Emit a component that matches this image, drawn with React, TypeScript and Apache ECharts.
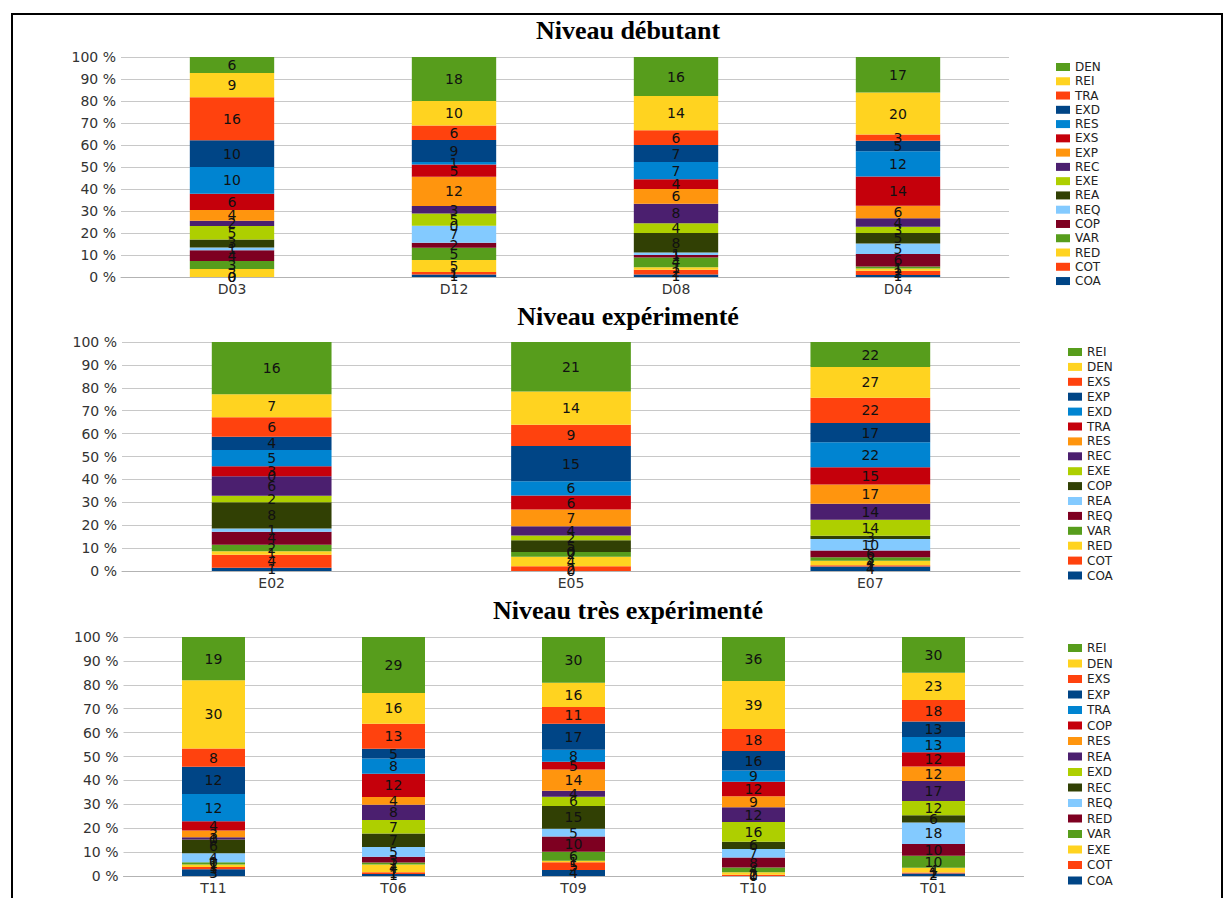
import React, { useEffect, useRef } from "react";
import * as echarts from "echarts";

// ---------- DATA ----------
const PALETTE = [
  "#004586", "#ff420e", "#ffd320", "#579d1c", "#7e0021", "#83caff", "#314004", "#aecf00",
  "#4b1f6f", "#ff950e", "#c5000b", "#0084d1", "#004586", "#ff420e", "#ffd320", "#579d1c",
];

// Niveau débutant (stack order bottom -> top)
const topTitle = "Niveau débutant";
const topCategories = ["D03", "D12", "D08", "D04"];
const topNames = ["COA", "COT", "RED", "VAR", "COP", "REQ", "REA", "EXE", "REC", "EXP", "EXS", "RES", "EXD", "TRA", "REI", "DEN"];
const valuesD03 = [0, 0, 3, 3, 4, 1, 3, 5, 2, 4, 6, 10, 10, 16, 9, 6];
const valuesD12 = [1, 1, 5, 5, 2, 7, 0, 5, 3, 12, 5, 1, 9, 6, 10, 18];
const valuesD08 = [1, 2, 1, 4, 1, 1, 8, 4, 8, 6, 4, 7, 7, 6, 14, 16];
const valuesD04 = [1, 2, 1, 1, 6, 5, 5, 3, 4, 6, 14, 12, 5, 3, 20, 17];

// Niveau expérimenté
const midTitle = "Niveau expérimenté";
const midCategories = ["E02", "E05", "E07"];
const midNames = ["COA", "COT", "RED", "VAR", "REQ", "REA", "COP", "EXE", "REC", "RES", "TRA", "EXD", "EXP", "EXS", "DEN", "REI"];
const valuesE02 = [1, 4, 1, 2, 4, 1, 8, 2, 6, 0, 3, 5, 4, 6, 7, 16];
const valuesE05 = [0, 2, 4, 2, 0, 0, 5, 2, 4, 7, 6, 6, 15, 9, 14, 21];
const valuesE07 = [4, 1, 4, 3, 6, 10, 3, 14, 14, 17, 15, 22, 17, 22, 27, 22];

// Niveau très expérimenté
const botTitle = "Niveau très expérimenté";
const botCategories = ["T11", "T06", "T09", "T10", "T01"];
const botNames = ["COA", "COT", "EXE", "VAR", "RED", "REQ", "REC", "EXD", "REA", "RES", "COP", "TRA", "EXP", "EXS", "DEN", "REI"];
const valuesT11 = [3, 1, 1, 1, 0, 4, 6, 0, 1, 3, 4, 12, 12, 8, 30, 19];
const valuesT06 = [1, 1, 4, 1, 3, 5, 7, 7, 8, 4, 12, 8, 5, 13, 16, 29];
const valuesT09 = [4, 5, 1, 6, 10, 5, 15, 6, 4, 14, 5, 8, 17, 11, 16, 30];
const valuesT10 = [0, 1, 2, 4, 8, 7, 6, 16, 12, 9, 12, 9, 16, 18, 39, 36];
const valuesT01 = [2, 1, 4, 10, 10, 18, 6, 12, 17, 12, 12, 13, 13, 18, 23, 30];

// ---------- LAYOUT ----------
const SANS = "'DejaVu Sans', sans-serif";
const SERIF = "'Liberation Serif', 'Times New Roman', serif";

const panels = [
  { title: topTitle, titleY: 12, cats: topCategories, names: topNames, bars: [valuesD03, valuesD12, valuesD08, valuesD04],
    grid: { left: 121, top: 57, width: 888, height: 220 }, barWidth: "38%", legendLeft: 1051, legendTop: 56, legendGap: 2.27 },
  { title: midTitle, titleY: 298, cats: midCategories, names: midNames, bars: [valuesE02, valuesE05, valuesE07],
    grid: { left: 122, top: 342, width: 898, height: 229 }, barWidth: "40%", legendLeft: 1063, legendTop: 341, legendGap: 2.9 },
  { title: botTitle, titleY: 592, cats: botCategories, names: botNames, bars: [valuesT11, valuesT06, valuesT09, valuesT10, valuesT01],
    grid: { left: 123.5, top: 637, width: 900, height: 239 }, barWidth: "35%", legendLeft: 1063, legendTop: 637, legendGap: 3.5 },
];

function buildOption() {
  const title: any[] = [];
  const grid: any[] = [];
  const xAxis: any[] = [];
  const yAxis: any[] = [];
  const legend: any[] = [];
  const series: any[] = [];

  panels.forEach((p, gi) => {
    title.push({
      text: p.title, left: 623, top: p.titleY, textAlign: "center",
      textStyle: { fontFamily: SERIF, fontWeight: "bold", fontSize: 26, color: "#000" },
    });
    grid.push({ ...p.grid });
    xAxis.push({
      type: "category", gridIndex: gi, data: p.cats,
      axisLine: { show: true, lineStyle: { color: "#b3b3b3" } },
      axisTick: { show: false },
      axisLabel: { fontFamily: SANS, fontSize: 14, color: "#333", margin: 5 },
    });
    yAxis.push({
      type: "value", gridIndex: gi, min: 0, max: 100, interval: 10,
      axisLine: { show: false }, axisTick: { show: false },
      splitLine: { lineStyle: { color: "#c8c8c8" } },
      axisLabel: { fontFamily: SANS, fontSize: 14, color: "#333", margin: 5, formatter: "{value} %" },
    });
    const totals = p.cats.map((_, ci) => p.bars[ci].reduce((a, b) => a + b, 0));
    p.names.forEach((n, si) => {
      series.push({
        type: "bar", name: n, stack: "s" + gi, xAxisIndex: gi, yAxisIndex: gi,
        barWidth: p.barWidth,
        itemStyle: { color: PALETTE[si] },
        label: {
          show: true, position: "inside", fontFamily: SANS, fontSize: 14, color: "#111",
          formatter: (d: any) => String(d.data.raw),
        },
        data: p.cats.map((_, ci) => ({ value: (p.bars[ci][si] / totals[ci]) * 100, raw: p.bars[ci][si] })),
      });
    });
    legend.push({
      orient: "vertical", left: p.legendLeft, top: p.legendTop, itemWidth: 14, itemHeight: 8,
      itemGap: p.legendGap, icon: "rect", selectedMode: false, height: 260,
      textStyle: { fontFamily: SANS, fontSize: 12, color: "#222", lineHeight: 12 },
      data: p.names.map((n, si) => ({ name: n, itemStyle: { color: PALETTE[si] } })).reverse(),
    });
  });

  return {
    animation: false,
    backgroundColor: "#fff",
    title, grid, xAxis, yAxis, legend, series,
    graphic: [
      { type: "polyline", shape: { points: [[12, 898], [12, 14], [1222, 14], [1222, 898]] },
        style: { stroke: "#000", lineWidth: 2, fill: null } },
    ],
  };
}

export default function App() {
  const ref = useRef<HTMLDivElement>(null);
  useEffect(() => {
    if (!ref.current) return;
    const chart = echarts.init(ref.current, null, { renderer: "svg" });
    chart.setOption(buildOption() as any);
    return () => chart.dispose();
  }, []);
  return (
    <div ref={ref} style={{ position: "absolute", left: 0, top: 0, width: 1229, height: 898, background: "#fff" }} />
  );
}
